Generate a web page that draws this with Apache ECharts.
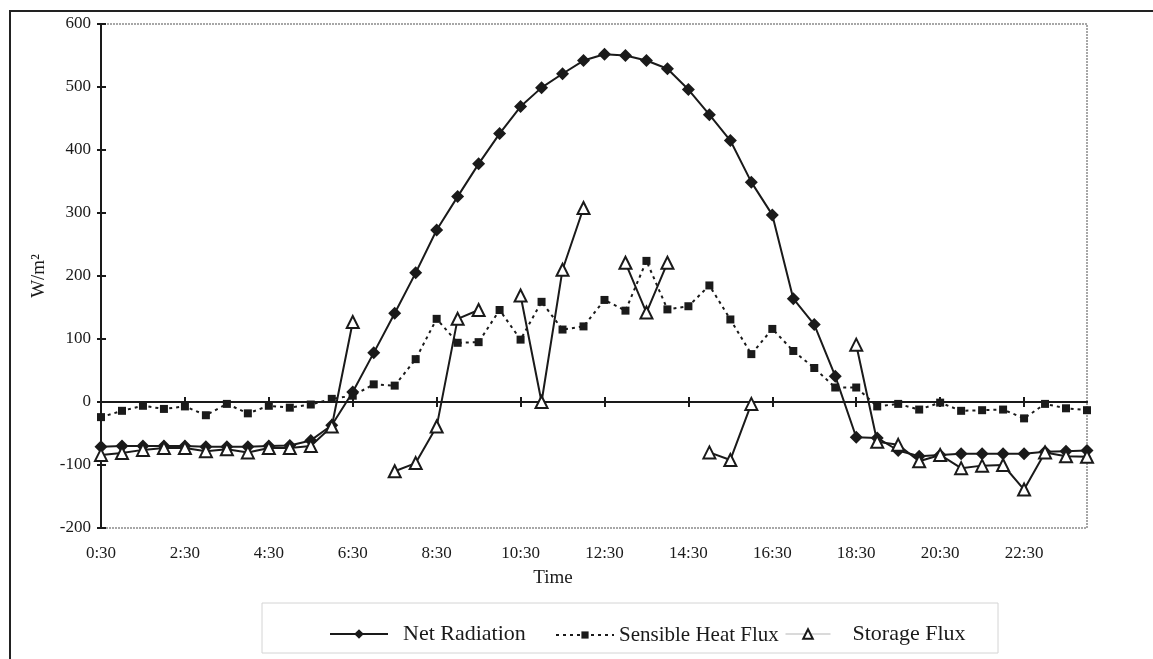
<!DOCTYPE html>
<html>
<head>
<meta charset="utf-8">
<script src="https://cdn.jsdelivr.net/npm/echarts@6/dist/echarts.min.js"></script>
<style>
    html, body { margin: 0; padding: 0; background: #fff; }
    #fluxChart { width: 1153px; height: 659px; }
</style>
</head>
<body>
<div id="fluxChart"></div>
<script>
// Half-hourly time steps, 0:30 to 24:00
const times = [
    '0:30', '1:00', '1:30', '2:00', '2:30', '3:00', '3:30', '4:00', '4:30', '5:00', '5:30', '6:00',
    '6:30', '7:00', '7:30', '8:00', '8:30', '9:00', '9:30', '10:00', '10:30', '11:00', '11:30', '12:00',
    '12:30', '13:00', '13:30', '14:00', '14:30', '15:00', '15:30', '16:00', '16:30', '17:00', '17:30', '18:00',
    '18:30', '19:00', '19:30', '20:00', '20:30', '21:00', '21:30', '22:00', '22:30', '23:00', '23:30', '24:00'
];

const netRadiation = [
    -71, -70, -70, -70, -70, -71, -71, -71, -70, -69, -61, -37,
    16, 78, 141, 205, 273, 326, 378, 426, 469, 499, 521, 542,
    552, 550, 542, 529, 496, 456, 415, 349, 297, 164, 123, 41,
    -56, -57, -77, -86, -84, -82, -82, -82, -82, -79, -78, -77
];

const sensibleHeat = [
    -24, -14, -6, -11, -7, -21, -3, -18, -6, -9, -4, 5,
    10, 28, 26, 68, 132, 94, 95, 146, 99, 159, 115, 120,
    162, 145, 224, 147, 152, 185, 131, 76, 116, 81, 54, 23,
    23, -7, -3, -12, -1, -14, -13, -12, -26, -3, -10, -13
];

// null = missing measurement (breaks the line)
const storageFlux = [
    -84, -81, -76, -73, -73, -78, -75, -80, -73, -73, -70, -39,
    127, null, -110, -97, -39, 132, 146, null, 169, 0, 210, 308,
    null, 221, 142, 221, null, -80, -92, -3, null, null, null, null,
    91, -63, -68, -94, -84, -105, -101, -100, -139, -80, -86, -87
];

const SERIF = 'Liberation Serif';
const INK = '#1a1a1a';

function categoryAxis(extra) {
    return Object.assign({
        type: 'category',
        data: times,
        boundaryGap: false,
        position: 'bottom'
    }, extra);
}

function valueAxis(extra) {
    return Object.assign({
        type: 'value',
        min: -200,
        max: 600,
        interval: 100,
        position: 'left',
        splitLine: { show: false }
    }, extra);
}

function legendFor(name, left, itemWidth, itemHeight, fontSize, gap, extra) {
    return {
        data: [Object.assign({ name: name }, extra || {})],
        left: left,
        top: 629 - itemHeight / 2,
        padding: 0,
        itemWidth: itemWidth,
        itemHeight: itemHeight,
        textStyle: {
            fontFamily: SERIF,
            fontSize: fontSize,
            color: INK,
            padding: [0, 0, 0, gap]
        }
    };
}

function buildOption() {
    return {
        animation: false,
        grid: {
            left: 101,
            top: 24,
            right: 66,
            bottom: 131,
            show: true,
            borderColor: '#8a8a8a',
            borderWidth: 1.5,
            borderType: [2, 1],
            outerBoundsMode: 'none'
        },
        xAxis: [
            // labels along the bottom edge
            categoryAxis({
                axisLine: { show: false, onZero: false },
                axisTick: { show: false },
                axisLabel: { interval: 3, margin: 17, fontFamily: SERIF, fontSize: 17, color: INK }
            }),
            // zero line with ticks below
            categoryAxis({
                axisLine: { onZero: true, lineStyle: { color: INK, width: 2 } },
                axisTick: { interval: 3, length: 5, lineStyle: { color: INK, width: 2 } },
                axisLabel: { show: false }
            }),
            // ticks above the zero line
            categoryAxis({
                axisLine: { onZero: true, lineStyle: { color: INK, width: 2 } },
                axisTick: { interval: 3, length: 5, inside: true, lineStyle: { color: INK, width: 2 } },
                axisLabel: { show: false }
            })
        ],
        yAxis: [
            valueAxis({
                name: 'W/m²',
                nameLocation: 'middle',
                nameRotate: 90,
                nameGap: 50,
                nameTextStyle: { fontFamily: SERIF, fontSize: 19, color: INK },
                axisLine: { show: true, lineStyle: { color: INK, width: 2 } },
                axisTick: { show: true, length: 4, lineStyle: { color: INK, width: 2 } },
                axisLabel: { margin: 10, fontFamily: SERIF, fontSize: 17, color: INK }
            }),
            valueAxis({
                axisLine: { show: false },
                axisTick: { show: true, inside: true, length: 5, lineStyle: { color: INK, width: 2 } },
                axisLabel: { show: false }
            })
        ],
        legend: [
            legendFor('Net Radiation', 329, 58, 12, 22, 10),
            legendFor('Sensible Heat Flux', 555, 58, 9, 21, 0),
            legendFor('Storage Flux', 785, 45, 12, 22, 17, { lineStyle: { color: '#b5b5b5', width: 1 } })
        ],
        graphic: [
            {
                type: 'rect',
                silent: true,
                shape: { x: 10, y: 11, width: 1160, height: 660 },
                style: { fill: 'none', stroke: '#222', lineWidth: 2 }
            },
            {
                type: 'rect',
                silent: true,
                shape: { x: 262, y: 603, width: 736, height: 50 },
                style: { fill: 'none', stroke: '#d4d4d4', lineWidth: 1 }
            },
            {
                type: 'text',
                silent: true,
                x: 553,
                y: 578,
                style: {
                    text: 'Time',
                    fontFamily: SERIF,
                    fontSize: 19,
                    fill: INK,
                    align: 'center',
                    verticalAlign: 'middle'
                }
            }
        ],
        series: [
            {
                name: 'Net Radiation',
                type: 'line',
                data: netRadiation,
                symbol: 'diamond',
                symbolSize: 13,
                lineStyle: { color: INK, width: 2 },
                itemStyle: { color: INK }
            },
            {
                name: 'Sensible Heat Flux',
                type: 'line',
                data: sensibleHeat,
                symbol: 'rect',
                symbolSize: 8,
                lineStyle: { color: INK, width: 2, type: [3, 4] },
                itemStyle: { color: INK }
            },
            {
                name: 'Storage Flux',
                type: 'line',
                data: storageFlux,
                symbol: 'triangle',
                symbolSize: 12,
                lineStyle: { color: INK, width: 2 },
                itemStyle: { color: '#fff', borderColor: INK, borderWidth: 2 }
            }
        ]
    };
}

const dom = document.getElementById('fluxChart');
const chart = echarts.init(dom);
chart.setOption(buildOption());
</script>
</body>
</html>
